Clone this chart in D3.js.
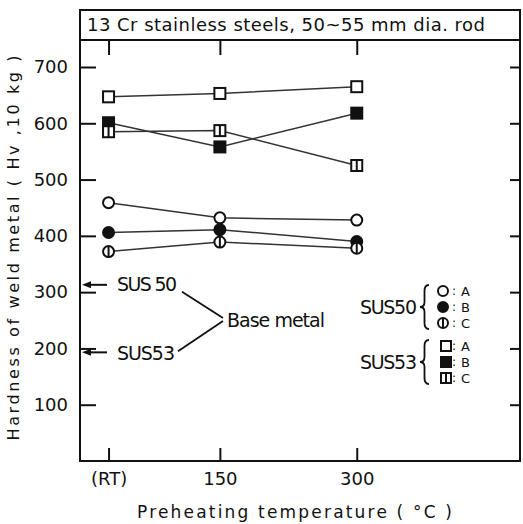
<!DOCTYPE html>
<html lang="en">
<head>
<meta charset="UTF-8">
<script src="https://d3js.org/d3.v7.min.js"></script>
<style>
body {margin: 0; background: white;}
svg {display: block;}
text {font-family: "DejaVu Sans", sans-serif; fill: #111;}
.tick line {stroke: #111; stroke-width: 2;}
</style>
</head>
<body>
<svg width="523" height="524"></svg>
<script>
// preheating temperatures (RT taken as ~28 C)
const tempLabels = ["(RT)", "150", "300"];
const temps = [28, 150, 300];
const yTicks = [100, 200, 300, 400, 500, 600, 700];

// hardness of weld metal (Hv, 10 kg)
const sus50A = [459, 432, 428];
const sus50B = [406, 411, 390];
const sus50C = [372, 389, 378];
const sus53A = [647, 653, 665];
const sus53B = [601, 558, 618];
const sus53C = [585, 587, 525];

// base metal hardness
const baseNames = ["SUS 50", "SUS53"];
const baseValues = [313, 193];

const series = [
  {name: "A", steel: "SUS50", shape: "circle", fill: "open", values: sus50A},
  {name: "B", steel: "SUS50", shape: "circle", fill: "solid", values: sus50B},
  {name: "C", steel: "SUS50", shape: "circle", fill: "bar", values: sus50C},
  {name: "A", steel: "SUS53", shape: "square", fill: "open", values: sus53A},
  {name: "B", steel: "SUS53", shape: "square", fill: "solid", values: sus53B},
  {name: "C", steel: "SUS53", shape: "square", fill: "bar", values: sus53C}
];

const svg = d3.select("svg");
const frameL = 80, frameR = 520, frameT = 10, titleBottom = 40, frameB = 461;

const x = d3.scaleLinear().domain([0, 480]).range([83, 521]);
const y = d3.scaleLinear().domain([0, 700]).range([frameB, 67]);

// frame + title box
svg.append("rect")
  .attr("x", frameL).attr("y", frameT)
  .attr("width", frameR - frameL).attr("height", frameB - frameT)
  .attr("fill", "none").attr("stroke", "#111").attr("stroke-width", 2);
svg.append("line")
  .attr("x1", frameL).attr("x2", frameR)
  .attr("y1", titleBottom).attr("y2", titleBottom)
  .attr("stroke", "#111").attr("stroke-width", 2);
svg.append("text")
  .attr("x", 87).attr("y", 31)
  .attr("font-size", 18)
  .attr("textLength", 398)
  .text("13 Cr stainless  steels, 50~55 mm dia. rod");

// axes
svg.append("g")
  .attr("transform", "translate(" + frameL + ",0)")
  .call(d3.axisLeft(y).tickValues(yTicks).tickSize(-16).tickPadding(12))
  .call(g => g.select(".domain").remove())
  .selectAll("text").attr("font-size", 18).style("font-family", "DejaVu Sans");

svg.append("g")
  .attr("transform", "translate(" + frameR + ",0)")
  .call(d3.axisRight(y).tickValues(yTicks).tickSize(-10).tickFormat(""))
  .call(g => g.select(".domain").remove());

svg.append("g")
  .attr("transform", "translate(0," + titleBottom + ")")
  .call(d3.axisTop(x).tickValues(temps).tickSize(-15).tickFormat(""))
  .call(g => g.select(".domain").remove());

svg.append("g")
  .attr("transform", "translate(0," + frameB + ")")
  .call(d3.axisBottom(x).tickValues(temps).tickSize(-13).tickPadding(11)
    .tickFormat((d, i) => tempLabels[i]))
  .call(g => g.select(".domain").remove())
  .selectAll("text").attr("font-size", 18).style("font-family", "DejaVu Sans");

svg.selectAll(".tick text").attr("fill", "#111");

// axis titles
svg.append("text")
  .attr("transform", "translate(19,248) rotate(-90)")
  .attr("text-anchor", "middle")
  .attr("font-size", 16)
  .attr("textLength", 385)
  .text("Hardness of weld metal  ( Hv ,10 kg )");

svg.append("text")
  .attr("x", 137).attr("y", 518)
  .attr("font-size", 17)
  .attr("textLength", 315)
  .text("Preheating temperature  ( °C )");

// lines
const line = d3.line().x((d, i) => x(temps[i])).y(d => y(d));
svg.append("g").selectAll("path")
  .data(series).join("path")
  .attr("d", d => line(d.values))
  .attr("fill", "none").attr("stroke", "#333").attr("stroke-width", 1.5);

function marker(g, d, size) {
  const h = size / 2;
  if (d.shape === "circle") {
    g.append("circle").attr("r", h)
      .attr("fill", d.fill === "solid" ? "#111" : "white")
      .attr("stroke", "#111").attr("stroke-width", 2);
  } else {
    g.append("rect").attr("x", -h).attr("y", -h).attr("width", size).attr("height", size)
      .attr("fill", d.fill === "solid" ? "#111" : "white")
      .attr("stroke", "#111").attr("stroke-width", 2);
  }
  if (d.fill === "bar") {
    g.append("line").attr("y1", -h).attr("y2", h)
      .attr("stroke", "#111").attr("stroke-width", 2);
  }
}

series.forEach(s => {
  s.values.forEach((v, i) => {
    const g = svg.append("g")
      .attr("transform", "translate(" + x(temps[i]) + "," + y(v) + ")");
    marker(g, s, 11);
  });
});

// base metal arrows
baseValues.forEach((v, i) => {
  const yy = y(v);
  svg.append("line")
    .attr("x1", 88).attr("x2", 107).attr("y1", yy).attr("y2", yy)
    .attr("stroke", "#111").attr("stroke-width", 2);
  svg.append("path")
    .attr("d", "M82," + yy + "L91," + (yy - 3.5) + "L91," + (yy + 3.5) + "Z")
    .attr("fill", "#111");
  svg.append("text")
    .attr("x", 117).attr("y", yy + 6 + (i === 1 ? 2 : 0))
    .attr("font-size", 19)
    .attr("textLength", i === 0 ? 60 : 58)
    .text(baseNames[i]);
});
const joinY = (y(baseValues[0]) + y(baseValues[1])) / 2 + 1;
svg.append("path")
  .attr("d", "M182," + (y(baseValues[0]) + 7) + "L223," + (joinY - 1.5) +
    "M178," + (y(baseValues[1]) - 1) + "L223," + (joinY + 1.5))
  .attr("fill", "none").attr("stroke", "#111").attr("stroke-width", 1.8);
svg.append("text")
  .attr("x", 227).attr("y", joinY + 7)
  .attr("font-size", 19)
  .attr("textLength", 98)
  .text("Base metal");

// legend
function brace(x0, y0, y1, w) {
  const m = (y0 + y1) / 2;
  return "M" + (x0 + w) + "," + y0 +
    "Q" + (x0 + w / 2) + "," + y0 + " " + (x0 + w / 2) + "," + (y0 + 6) +
    "L" + (x0 + w / 2) + "," + (m - 5) +
    "Q" + (x0 + w / 2) + "," + m + " " + x0 + "," + m +
    "Q" + (x0 + w / 2) + "," + m + " " + (x0 + w / 2) + "," + (m + 5) +
    "L" + (x0 + w / 2) + "," + (y1 - 6) +
    "Q" + (x0 + w / 2) + "," + y1 + " " + (x0 + w) + "," + y1;
}
const legendRows = [[291, 307, 323], [346, 362, 378]];
["SUS50", "SUS53"].forEach((steel, k) => {
  const rows = legendRows[k];
  const mid = (rows[0] + rows[2]) / 2;
  const items = series.filter(s => s.steel === steel);
  svg.append("text")
    .attr("x", 417).attr("y", mid + 6.5)
    .attr("text-anchor", "end")
    .attr("font-size", 19)
    .attr("textLength", 57)
    .text(steel);
  svg.append("path")
    .attr("d", brace(420, rows[0] - 6, rows[2] + 6, 9))
    .attr("fill", "none").attr("stroke", "#111").attr("stroke-width", 1.8);
  items.forEach((s, i) => {
    const g = svg.append("g")
      .attr("transform", "translate(" + (k === 0 ? 443 : 446) + "," + rows[i] + ")");
    marker(g, s, 10);
  });
  svg.append("text")
    .attr("font-size", 12)
    .selectAll("tspan").data(items).join("tspan")
    .attr("x", 452).attr("y", (d, i) => rows[i] + 4)
    .text(":");
  svg.append("text")
    .attr("font-size", 13)
    .selectAll("tspan").data(items).join("tspan")
    .attr("x", 461).attr("y", (d, i) => rows[i] + 5)
    .text(d => d.name);
});
</script>
</body>
</html>
